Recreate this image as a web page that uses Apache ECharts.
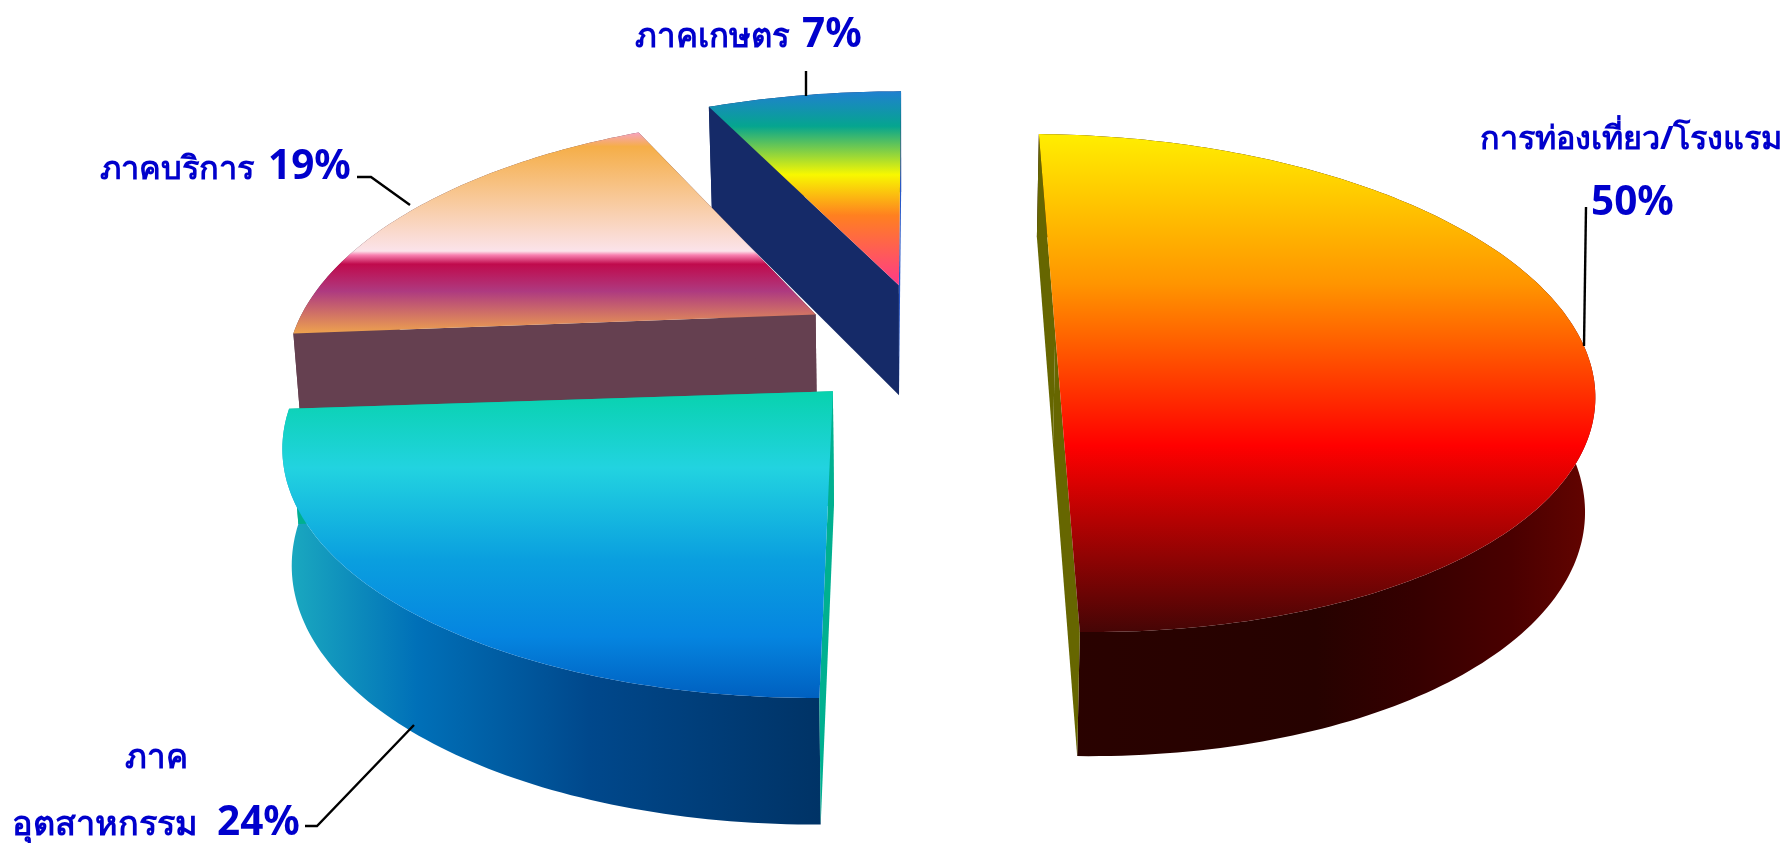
<!DOCTYPE html>
<html><head><meta charset="utf-8">
<style>html,body{margin:0;padding:0;background:#fff}#c{width:1789px;height:843px}</style>
<script src="https://cdn.jsdelivr.net/npm/echarts@6/dist/echarts.min.js"></script>
</head><body><div id="c"></div>
<script>
const categories = ['การท่องเที่ยว/โรงแรม', 'ภาคอุตสาหกรรม', 'ภาคบริการ', 'ภาคเกษตร'];
const values = [50, 24, 19, 7];
const percentLabels = ['50%', '24%', '19%', '7%'];

// Projection of the pie plane (perspective, tilted) - layout only
const VIEW = {vx: 907, y0: 332, a: 527, b: 238.5, k: 0.2, start: -88.9, depth: 112, pow: 0.46, conv: 0.015};
// explosion offset, radius scale and small rotation per slice
const SLICE = [
  {u: 0.281, v: 0.005, rx: 0.99, ry: 1, rot: 0, order: 4},
  {u: -0.134, v: 0.237, rx: 0.97, ry: 0.937, rot: -1.5, order: 3},
  {u: -0.176, v: -0.075, rx: 0.99, ry: 1.035, rot: -2, order: 2},
  {u: -0.016, v: -0.204, rx: 1.055, ry: 1.06, rot: -1, order: 1}
];
const grad = (x2, y2, st) => ({type: 'linear', x: 0, y: 0, x2, y2, global: false,
  colorStops: st.map(s => ({offset: s[0], color: s[1]}))});
const STYLE = [
  {top: [[0,'#ffee00'],[0.3,'#ff9500'],[0.626,'#ff0000'],[1,'#450505']],
   rim: [[0,'#2a0200'],[0.5,'#260200'],[0.68,'#360000'],[0.85,'#4a0000'],[1,'#650400']], wall0: '#666600', wall1: '#666600'},
  {top: [[0,'#08d2ae'],[0.25,'#22d3e0'],[0.55,'#0a9fdf'],[0.8,'#0585e0'],[1,'#0060c0']],
   rim: [[0,'#1cacc0'],[0.25,'#0070b8'],[0.57,'#00488c'],[1,'#003366']], wall0: '#00b090', wall1: '#00b090'},
  {top: [[0,'#f7a3bf'],[0.07,'#f5ae48'],[0.59,'#fbe3ea'],[0.61,'#f880b0'],[0.655,'#c00a4c'],[0.79,'#ae3a80'],[1,'#eea34e']],
   rim: [[0,'#654050'],[1,'#654050']], wall0: '#654050', wall1: '#654050'},
  {top: [[0,'#2080d0'],[0.18,'#05a58f'],[0.43,'#f8f800'],[0.64,'#ff8020'],[1,'#ff3a88']],
   rim: [[0,'#152a68'],[1,'#152a68']], wall0: '#152a68', wall1: '#2858c8'}
];
const LABELS = [
  {lines: [{t: 'การท่องเที่ยว/โรงแรม', x: 1480, y: 147, size: 32.4}], px: 1591, py: 213, lead: [[1586,207],[1584,346]]},
  {lines: [{t: 'ภาค', x: 125, y: 766, size: 33}, {t: 'อุตสาหกรรม', x: 12, y: 833, size: 34.3}], px: 217, py: 833, lead: [[305,826],[317,826],[414,725]]},
  {lines: [{t: 'ภาคบริการ', x: 100, y: 177, size: 32.6}], px: 268, py: 177, lead: [[357,177],[371,177],[410,205]]},
  {lines: [{t: 'ภาคเกษตร', x: 635, y: 45, size: 33}], px: 802, py: 45, lead: [[806,71],[806,96]]}
];
const BLUE = '#0000cc';
const nameFont = s => 'bold ' + s + 'px "Noto Sans", "DejaVu Sans", sans-serif';
const PCT_FONT = 'bold 40.5px "Noto Sans", sans-serif';

const total = values.reduce((s, x) => s + x, 0);

function project(sl, deg, r) {
  const t = deg * Math.PI / 180;
  const u = sl.u + r * sl.rx * Math.cos(t), v = sl.v + r * sl.ry * Math.sin(t);
  const w = 1 - VIEW.k * v;
  const x = VIEW.vx + VIEW.a * u / w, y = VIEW.y0 + VIEW.b * v / w;
  const d = VIEW.depth * Math.pow(w, -VIEW.pow);
  return {x, y, bx: VIEW.vx + (x - VIEW.vx) * (1 - VIEW.conv), by: y + d};
}

function renderItem(params, api) {
  const i = params.dataIndex, val = api.value(0);
  let before = 0;
  for (let j = 0; j < i; j++) before += values[j];
  const sl = SLICE[i], st = STYLE[i], z = sl.order * 10;
  const a0 = VIEW.start + sl.rot + before / total * 360, a1 = a0 + val / total * 360;
  const arc = [];
  for (let n = 0, N = Math.ceil(a1 - a0); n <= N; n++) arc.push(project(sl, a0 + (a1 - a0) * n / N, 1));
  const c = project(sl, 0, 0), p0 = arc[0], p1 = arc[arc.length - 1];
  const poly = (pts, fill, zz) => ({type: 'polygon', z2: z + zz, silent: true,
    shape: {points: pts}, style: {fill, stroke: null}});
  const rim = arc.map(p => [p.x, p.y]).concat(arc.slice().reverse().map(p => [p.bx, p.by]));
  const children = [
    poly(rim, grad(1, 0, st.rim), 0),
    poly([[p0.x,p0.y],[c.x,c.y],[c.bx,c.by],[p0.bx,p0.by]], st.wall0, 1),
    poly([[p1.x,p1.y],[c.x,c.y],[c.bx,c.by],[p1.bx,p1.by]], st.wall1, 1),
    poly(arc.map(p => [p.x, p.y]).concat([[c.x, c.y]]), grad(0, 1, st.top), 2)
  ];
  const L = LABELS[i];
  L.lines.forEach(l => children.push({type: 'text', z2: 100, silent: true,
    style: {x: l.x, y: l.y + 9, text: l.t, font: nameFont(l.size), fill: BLUE, align: 'left', verticalAlign: 'bottom'}}));
  children.push({type: 'text', z2: 100, silent: true,
    style: {x: L.px, y: L.py + 11, text: percentLabels[i], font: PCT_FONT, fill: BLUE, align: 'left', verticalAlign: 'bottom'}});
  children.push({type: 'polyline', z2: 99, silent: true, shape: {points: L.lead},
    style: {stroke: '#000', lineWidth: 2.4, fill: null}});
  return {type: 'group', children};
}

const chart = echarts.init(document.getElementById('c'), null, {renderer: 'canvas'});
chart.setOption({
  animation: false,
  backgroundColor: '#fff',
  series: [{
    type: 'custom', coordinateSystem: 'none', renderItem,
    data: categories.map((name, i) => ({name, value: [values[i]]}))
  }]
});
</script></body></html>
